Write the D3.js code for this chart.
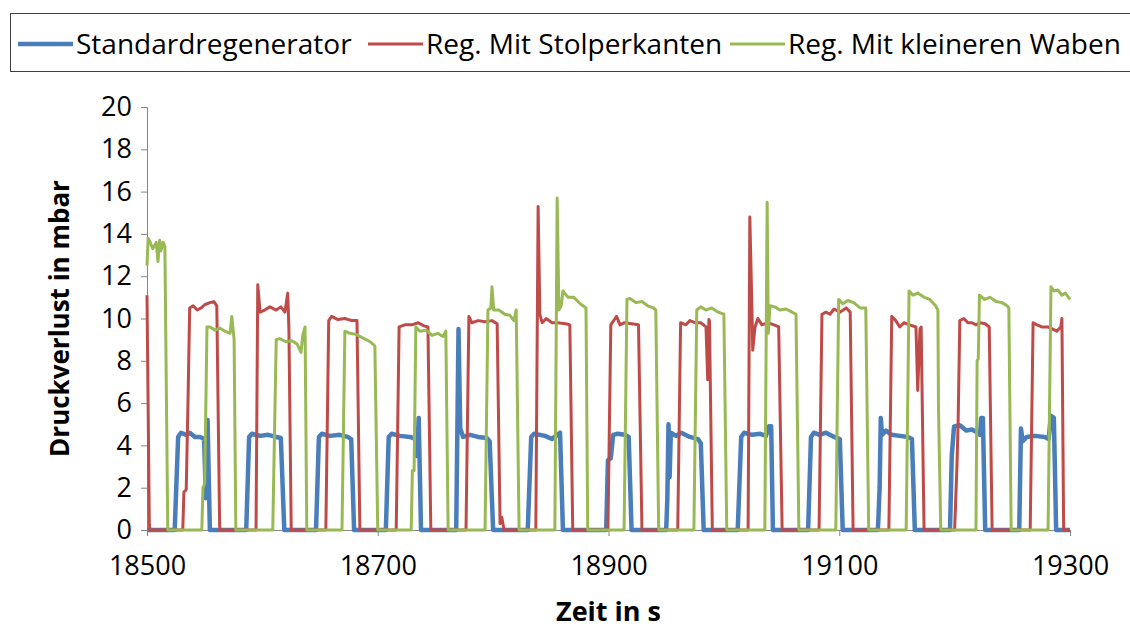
<!DOCTYPE html>
<html>
<head>
<meta charset="utf-8">
<script src="https://cdn.jsdelivr.net/npm/d3@7"></script>
<style>
  body { margin: 0; background: #fff; }
  svg text { font-family: "Open Sans", "Noto Sans", sans-serif; fill: #000; }
</style>
</head>
<body>
<div id="chart"></div>
<script>
// Druckverlust der Regeneratoren über die Zeit
const seriesNames = ["Standardregenerator", "Reg. Mit Stolperkanten", "Reg. Mit kleineren Waben"];
const seriesColors = ["#4A7EBB", "#BE4B48", "#98B954"];

const xTicks = [18500, 18700, 18900, 19100, 19300];
const yTicks = [0, 2, 4, 6, 8, 10, 12, 14, 16, 18, 20];

// [Zeit in s, Druckverlust in mbar]
const standard = [
  [18500, 0], [18524, 0], [18527, 4.4], [18529.5, 4.6], [18534, 4.5], [18537, 4.6], [18541.5, 4.4], [18546, 4.4], [18549.5, 4.3], [18551, 1.5], [18552.5, 5.2], [18554.5, 0],
  [18586, 0], [18588.5, 4.4], [18591, 4.55], [18598, 4.45], [18605, 4.5], [18612, 4.4], [18616, 4.35], [18619, 0],
  [18646.5, 0], [18649, 4.4], [18651.5, 4.55], [18658.5, 4.45], [18667, 4.5], [18674, 4.4], [18677, 4.3], [18679.5, 0],
  [18707, 0], [18709.5, 4.4], [18712, 4.55], [18719, 4.45], [18728, 4.4], [18733, 4.3], [18734, 3.5], [18735.5, 5.3], [18737.5, 0],
  [18768, 0], [18770, 9.5], [18771.5, 4.8], [18774, 4.4], [18780, 4.5], [18787, 4.4], [18794.5, 4.35], [18797, 4.2], [18800, 0],
  [18830, 0], [18833, 4.4], [18835.5, 4.55], [18845, 4.45], [18851, 4.3], [18854.5, 4.45], [18858, 4.6], [18860.5, 0],
  [18898, 0], [18899.5, 3.3], [18902, 3.4], [18904, 4.5], [18908, 4.55], [18914, 4.5], [18917.5, 4.4], [18920, 0],
  [18950, 0], [18951, 1.5], [18952, 5.0], [18953, 2.5], [18954, 4.6], [18958.5, 4.45], [18963, 4.6], [18970.5, 4.4], [18977.5, 4.3], [18980, 4.1], [18982.5, 0],
  [19012, 0], [19015, 4.4], [19017.5, 4.6], [19024.5, 4.5], [19031.5, 4.55], [19036.5, 4.45], [19039, 4.9], [19041, 4.9], [19042.5, 0],
  [19073, 0], [19075.5, 4.4], [19078, 4.6], [19083, 4.5], [19088.5, 4.6], [19095.5, 4.4], [19100.5, 4.3], [19103, 0],
  [19133.5, 0], [19135, 2.0], [19136, 5.3], [19137, 4.5], [19140.5, 4.7], [19145.5, 4.5], [19152.5, 4.45], [19159.5, 4.4], [19163, 4.3], [19165.5, 0],
  [19196, 0], [19197.5, 3.5], [19199.5, 4.9], [19204.5, 4.95], [19210, 4.7], [19215, 4.75], [19220, 4.6], [19222, 4.5], [19223, 5.3], [19224.5, 5.3], [19226.5, 0],
  [19256, 0], [19257.5, 4.8], [19259, 4.2], [19262.5, 4.4], [19269.5, 4.45], [19278, 4.4], [19281.5, 4.3], [19283.5, 5.4], [19286, 5.3], [19288, 0],
  [19300, 0]
];

const stolperkanten = [
  [18500, 11.1], [18502, 0.3], [18502.5, 0],
  [18531, 0], [18532, 1.8], [18534, 1.9], [18535.5, 6], [18537, 10.5], [18540, 10.6], [18543.5, 10.4], [18547, 10.5], [18550, 10.65], [18554.5, 10.75], [18558, 10.8], [18560.5, 10.6], [18563, 0],
  [18594.5, 0], [18596, 11.6], [18598, 10.3], [18602, 10.4], [18606.5, 10.55], [18612, 10.4], [18616, 10.55], [18619.5, 10.3], [18622, 11.2], [18623, 9.5], [18625, 0],
  [18655, 0], [18657.5, 9.9], [18660, 10.1], [18665.5, 9.95], [18671.5, 10.0], [18677.5, 9.9], [18682, 9.9], [18684.5, 0],
  [18716, 0], [18718.5, 9.6], [18723.5, 9.7], [18729.5, 9.7], [18735, 9.8], [18740, 9.65], [18743.5, 9.6], [18746, 0],
  [18776.5, 0], [18779, 10.1], [18781.5, 9.8], [18787, 9.9], [18793, 9.85], [18799, 9.9], [18803.5, 9.75], [18806, 0.3], [18807.5, 0.6], [18809.5, 0],
  [18837, 0], [18839, 15.3], [18840.5, 10.2], [18842.5, 9.8], [18846, 10.0], [18851, 9.8], [18856, 9.8], [18863, 9.75], [18866.5, 9.7], [18869, 0],
  [18899.5, 0], [18902, 9.7], [18904.5, 9.9], [18907, 10.1], [18910, 9.7], [18914, 9.8], [18920, 9.75], [18926, 9.7], [18929, 0],
  [18960, 0], [18962.5, 9.8], [18967, 9.7], [18970.5, 9.9], [18975, 9.8], [18980, 9.8], [18984.5, 9.6], [18986, 7.1], [18987, 9.95], [18987.5, 9.9], [18990, 0],
  [19021, 0], [19022.5, 14.8], [19024.5, 10.0], [19025, 8.5], [19027, 9.6], [19029.5, 10.0], [19033, 9.7], [19038, 9.8], [19043.5, 9.7], [19047.5, 9.6], [19050.5, 0],
  [19082.5, 0], [19085, 10.2], [19088.5, 10.3], [19092, 10.2], [19095.5, 10.45], [19100.5, 10.3], [19106, 10.5], [19109.5, 10.3], [19112, 0],
  [19143, 0], [19145.5, 10.1], [19149, 9.9], [19152.5, 9.6], [19156, 9.8], [19161, 9.7], [19166.5, 9.6], [19168, 6.6], [19170, 9.5], [19171, 9.6], [19173.5, 0],
  [19200, 0], [19202, 3.0], [19203, 5.0], [19204.5, 9.9], [19208, 10.0], [19211.5, 9.8], [19215, 9.8], [19218.5, 9.7], [19222, 9.8], [19226.5, 9.75], [19230, 9.6], [19232.5, 0],
  [19265.5, 0], [19268, 9.8], [19271.5, 9.7], [19275.5, 9.6], [19281, 9.6], [19285, 9.5], [19288.5, 9.4], [19292, 9.6], [19293, 10.0], [19294.5, 0],
  [19300, 0]
];

const kleinereWaben = [
  [18500, 12.5], [18501, 13.8], [18503.5, 13.5], [18505, 13.3], [18508, 13.6], [18509.5, 12.7], [18511, 13.7], [18512, 13.2], [18514, 13.6], [18515.5, 13.4], [18518, 0],
  [18547.5, 0], [18548.5, 2.0], [18550, 2.2], [18552, 9.6], [18554.5, 9.6], [18559, 9.45], [18563, 9.55], [18567.5, 9.4], [18572, 9.3], [18573.5, 10.1], [18575.5, 9.0], [18577, 0],
  [18609, 0], [18612, 9.0], [18615, 9.05], [18620.5, 8.9], [18625.5, 8.95], [18630, 8.8], [18633.5, 8.4], [18635, 9.2], [18637, 9.6], [18638.5, 0],
  [18669, 0], [18671.5, 9.4], [18676, 9.3], [18681, 9.25], [18686.5, 9.1], [18693.5, 8.9], [18697.5, 8.7], [18700, 0],
  [18729, 0], [18730, 2.8], [18731.5, 2.8], [18733, 9.6], [18736.5, 9.4], [18742, 9.45], [18747, 9.2], [18752, 9.3], [18756.5, 9.15], [18759, 9.4], [18761, 0],
  [18793, 0], [18795.5, 10.4], [18798, 10.5], [18799, 11.5], [18800.5, 10.4], [18805, 10.4], [18810, 10.2], [18814.5, 10.15], [18818, 9.9], [18820, 10.4], [18822.5, 0],
  [18853.5, 0], [18855.5, 15.7], [18857, 10.4], [18859, 10.6], [18860.5, 11.3], [18865, 11.0], [18870, 11.0], [18875.5, 10.7], [18880.5, 10.5], [18882, 0],
  [18913.5, 0], [18916, 10.9], [18918.5, 10.95], [18924, 10.75], [18929, 10.8], [18934, 10.6], [18939, 10.5], [18941, 10.4], [18943.5, 0],
  [18974, 0], [18976.5, 10.4], [18980, 10.55], [18984.5, 10.4], [18989.5, 10.5], [18995, 10.3], [19000, 10.2], [19002.5, 0],
  [19035.5, 0], [19037.5, 15.5], [19038.5, 9.3], [19040, 10.6], [19044, 10.55], [19048.5, 10.4], [19054, 10.45], [19059, 10.3], [19062.5, 10.2], [19065, 0],
  [19097, 0], [19099.5, 10.9], [19103, 10.7], [19107.5, 10.85], [19112.5, 10.75], [19118, 10.5], [19123, 10.5], [19125.5, 0],
  [19158, 0], [19160.5, 11.3], [19164, 11.1], [19168, 11.2], [19173.5, 11.0], [19178.5, 10.9], [19183.5, 10.6], [19185.5, 10.4], [19186, 5.8], [19188, 0],
  [19218.5, 0], [19219.5, 8.0], [19220.5, 8.1], [19221.5, 11.1], [19226, 10.9], [19230.5, 11.0], [19236, 10.8], [19241, 10.75], [19245.5, 10.6], [19247, 10.5], [19249, 0],
  [19281, 0], [19283.5, 11.5], [19286, 11.3], [19289.5, 11.35], [19293, 11.1], [19296, 11.2], [19300, 10.9]
];

const allSeries = [standard, stolperkanten, kleinereWaben];
const strokeWidths = [4.5, 3, 3];

const W = 1130, H = 630;
const margin = { top: 107, right: 60, bottom: 100, left: 147 };
const width = W - margin.left - margin.right;
const height = H - margin.top - margin.bottom;

const root = d3.select("#chart")
    .append("svg")
    .attr("width", W)
    .attr("height", H);

const svg = root.append("g")
    .attr("transform", `translate(${margin.left},${margin.top})`);

const x = d3.scaleLinear().domain([18500, 19300]).range([0, width]);
const y = d3.scaleLinear().domain([0, 20]).range([height, 0]);

// Y axis
const yAxis = svg.append("g")
    .call(d3.axisLeft(y).tickValues(yTicks).tickSize(6).tickPadding(9));
yAxis.select(".domain").attr("stroke", "#868686");
yAxis.selectAll(".tick line").attr("stroke", "#868686");
yAxis.selectAll(".tick text").attr("font-size", 27).attr("font-family", "Open Sans");

// X axis
const xAxis = svg.append("g")
    .attr("transform", `translate(0,${height})`)
    .call(d3.axisBottom(x).tickValues(xTicks).tickFormat(d3.format("d")).tickSize(6).tickPadding(20));
xAxis.select(".domain").attr("stroke", "#868686");
xAxis.selectAll(".tick line").attr("stroke", "#868686");
xAxis.selectAll(".tick text").attr("font-size", 27).attr("font-family", "Open Sans");

// Axis titles
svg.append("text")
    .attr("x", width / 2)
    .attr("y", height + 91)
    .attr("text-anchor", "middle")
    .attr("font-size", 27)
    .attr("font-weight", "bold")
    .text("Zeit in s");

svg.append("text")
    .attr("transform", `translate(-78,${height / 2}) rotate(-90)`)
    .attr("text-anchor", "middle")
    .attr("font-size", 26)
    .attr("font-weight", "bold")
    .text("Druckverlust in mbar");

// Lines
const line = d3.line()
    .x(d => x(d[0]))
    .y(d => y(d[1]));

svg.selectAll(".series")
    .data(allSeries)
    .enter()
    .append("path")
    .attr("class", "series")
    .attr("d", d => line(d))
    .attr("fill", "none")
    .attr("stroke", (d, i) => seriesColors[i])
    .attr("stroke-width", (d, i) => strokeWidths[i])
    .attr("stroke-linejoin", "round");

// Legend
const legend = root.append("g");
legend.append("rect")
    .attr("x", 10.5).attr("y", 13.5)
    .attr("width", 1130).attr("height", 58)
    .attr("fill", "#fff")
    .attr("stroke", "#404040");

const legendX = [18, 368, 730];
seriesNames.forEach((name, i) => {
    const g = legend.append("g").attr("transform", `translate(${legendX[i]},44)`);
    g.append("line")
        .attr("x1", 0).attr("x2", 55)
        .attr("stroke", seriesColors[i])
        .attr("stroke-width", strokeWidths[i]);
    g.append("text")
        .attr("x", 58)
        .attr("dy", "0.35em")
        .attr("font-size", 28)
        .text(name);
});
</script>
</body>
</html>
